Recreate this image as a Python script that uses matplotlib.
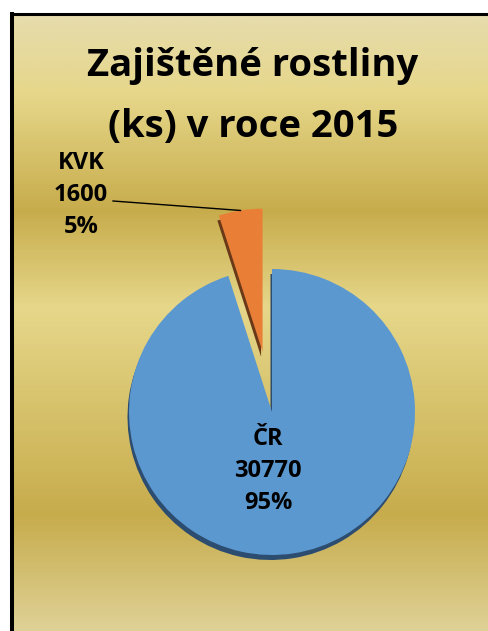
import numpy as np
import matplotlib.pyplot as plt
from matplotlib.colors import LinearSegmentedColormap

# data
labels = ['ČR', 'KVK']
values = [30770, 1600]
title_lines = ['Zajištěné rostliny', '(ks) v roce 2015']

plt.rcParams['font.family'] = ['Open Sans', 'DejaVu Sans']

W, H = 488, 631
fig = plt.figure(figsize=(W / 100, H / 100), dpi=100)
fig.patch.set_facecolor('white')
ax = fig.add_axes([0, 0, 1, 1])

# gold background (office "Gold" preset gradient)
stops = [(0.0, '#E6DCAC'), (0.12, '#E6D78A'), (0.30, '#C7AC4C'),
         (0.45, '#E6D78A'), (0.77, '#C7AC4C'), (1.0, '#E6DCAC')]
gold = LinearSegmentedColormap.from_list('gold', stops)
grad = np.linspace(0, 1, 600).reshape(-1, 1)
ax.imshow(grad, cmap=gold, aspect='auto', extent=(14, W, H - 665, H - 15),
          origin='upper', zorder=0)

# border (only left and top visible in the crop)
ax.plot([12, 12], [0, H - 12], color='black', lw=2.9, solid_capstyle='butt', zorder=5)
ax.plot([10, W], [H - 13.5, H - 13.5], color='black', lw=2.2, solid_capstyle='butt', zorder=5)

# pie
cx, cy, r = 272, H - 412, 143
expl = [0, 61]
# shadow underneath
ax.pie(values, colors=['#2c4c70', '#6a3a18'], startangle=90, counterclock=False,
       radius=r, center=(cx - 1.5, cy - 5), explode=expl, frame=True,
       wedgeprops=dict(zorder=1.5, linewidth=0))
wedges, _ = ax.pie(values, colors=['#5b98cf', '#e97e37'], startangle=90,
                   counterclock=False, radius=r, center=(cx, cy), explode=expl,
                   frame=True, wedgeprops=dict(zorder=2, linewidth=0))

total = sum(values)
pcts = ['{:.0f}%'.format(v / total * 100) for v in values]

lab_font = dict(fontsize=17, fontweight='bold', color='black', ha='center',
                va='baseline', zorder=6)
# CR label inside
for i, s in enumerate([labels[0], str(values[0]), pcts[0]]):
    ax.text(268, H - 445 - i * 32, s, **lab_font)
# KVK label outside
for i, s in enumerate([labels[1], str(values[1]), pcts[1]]):
    ax.text(81, H - 169 - i * 32, s, **lab_font)

# leader line to middle of the KVK arc
w = wedges[1]
tm = np.deg2rad((w.theta1 + w.theta2) / 2)
ex = w.center[0] + w.r * np.cos(tm)
ey = w.center[1] + w.r * np.sin(tm)
ax.plot([113, ex], [H - 201, ey], color='black', lw=1.0, zorder=6)

# title
for i, s in enumerate(title_lines):
    ax.text(253, H - 76 - i * 61, s, fontsize=27.5, fontweight='bold',
            ha='center', va='baseline', zorder=6)

ax.set_xlim(0, W)
ax.set_ylim(0, H)
ax.axis('off')

fig.savefig('out.png', dpi=100, facecolor='white')
